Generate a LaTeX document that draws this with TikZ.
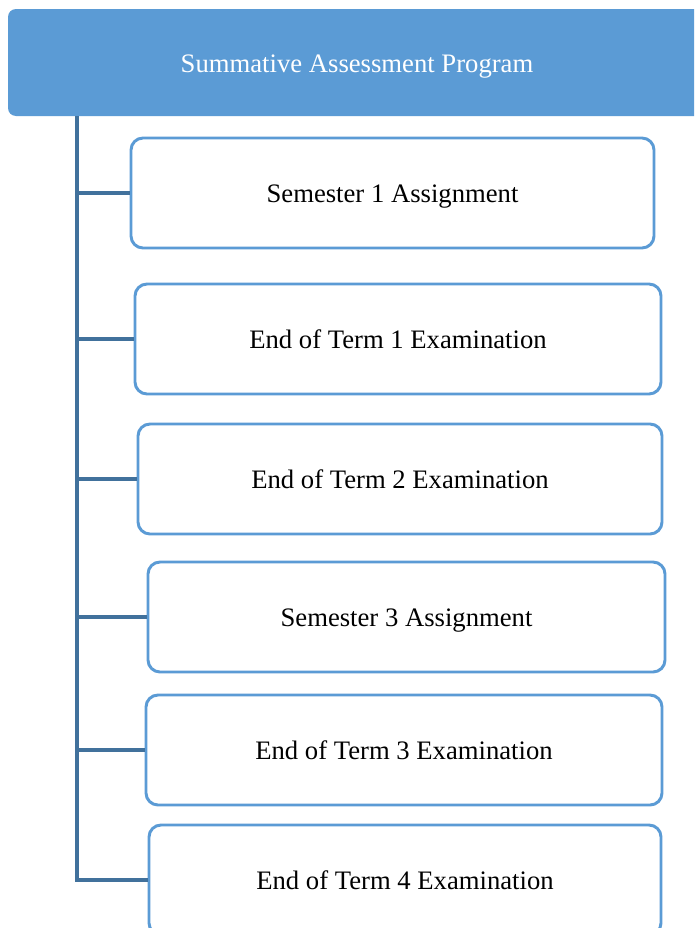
\documentclass[tikz,border=0pt]{standalone}
\usepackage{fontspec}
\setmainfont{Liberation Serif}
\definecolor{hdr}{HTML}{5B9BD5}
\definecolor{lnk}{HTML}{41719C}
\tikzset{
  txt/.style={font=\fontsize{20}{24}\selectfont, text height=18.5pt, text depth=4.4pt},
  itembox/.style={txt, draw=hdr, line width=2.2pt, rounded corners=9pt, fill=white, inner sep=0pt},
  link/.style={draw=lnk, line width=2.4pt},
}
\begin{document}
\begin{tikzpicture}[x=0.75pt,y=-0.75pt]
\useasboundingbox (0,0) rectangle (694,928);
\clip (0,0) rectangle (694,928);
\fill[white] (0,0) rectangle (694,928);
% header
\fill[hdr, rounded corners=6pt] (8,9) rectangle (710,116);
\node[txt, text=white] (hdr) at (357,63) {Summative Assessment Program};
% boxes
\node[itembox, minimum width=523*0.75pt, minimum height=110*0.75pt] (b1) at (392.5,193) {Semester 1 Assignment};
\node[itembox, minimum width=526*0.75pt, minimum height=110*0.75pt] (b2) at (398,339) {End of Term 1 Examination};
\node[itembox, minimum width=524*0.75pt, minimum height=110*0.75pt] (b3) at (400,479) {End of Term 2 Examination};
\node[itembox, minimum width=517*0.75pt, minimum height=110*0.75pt] (b4) at (406.5,617) {Semester 3 Assignment};
\node[itembox, minimum width=516*0.75pt, minimum height=110*0.75pt] (b5) at (404,750) {End of Term 3 Examination};
\node[itembox, minimum width=512*0.75pt, minimum height=110*0.75pt] (b6) at (405,880) {End of Term 4 Examination};
% connectors
\coordinate (top) at (77,116);
\draw[link] (top) |- (b6.west);
\foreach \b in {b1,b2,b3,b4,b5}{
  \draw[link] (top |- \b.west) -- (\b.west);
}
\end{tikzpicture}
\end{document}
